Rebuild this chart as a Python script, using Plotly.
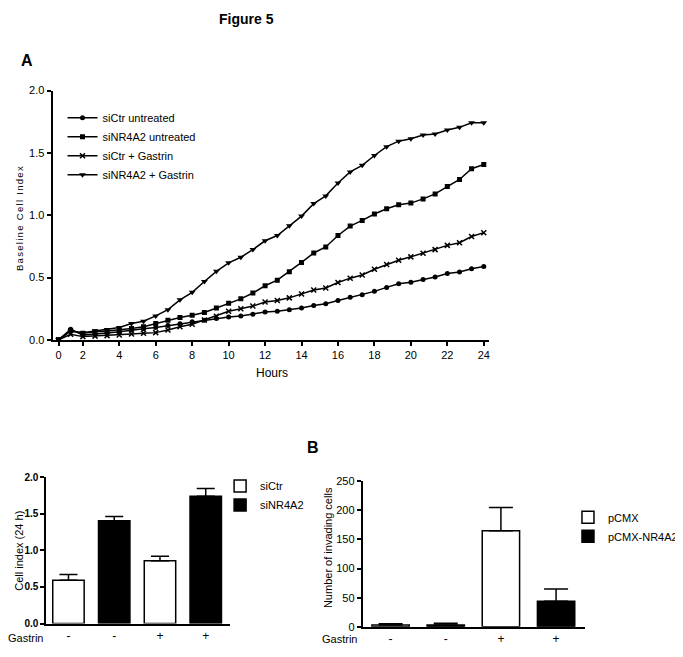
import plotly.graph_objects as go

# ---------------- data ----------------
hours = [0.67, 1.33, 2.0, 2.67, 3.33, 4.0, 4.67, 5.33, 6.0, 6.67, 7.33, 8.0,
         8.67, 9.33, 10.0, 10.67, 11.33, 12.0, 12.67, 13.33, 14.0, 14.67, 15.33, 16.0,
         16.67, 17.33, 18.0, 18.67, 19.33, 20.0, 20.67, 21.33, 22.0, 22.67, 23.33, 24.0]
hour_tickvals = [0.67, 2, 4, 6, 8, 10, 12, 14, 16, 18, 20, 22, 24]
hour_ticktext = ["0", "2", "4", "6", "8", "10", "12", "14", "16", "18", "20", "22", "24"]

siCtr_untreated = [0, 0.085, 0.04, 0.045, 0.055, 0.065, 0.08, 0.09, 0.10, 0.115, 0.13, 0.145,
                   0.158, 0.171, 0.184, 0.192, 0.205, 0.224, 0.229, 0.242, 0.255, 0.276, 0.29, 0.316,
                   0.342, 0.362, 0.389, 0.421, 0.45, 0.463, 0.484, 0.505, 0.532, 0.545, 0.571, 0.589]
siNR4A2_untreated = [0, 0.075, 0.053, 0.066, 0.071, 0.079, 0.092, 0.105, 0.131, 0.158, 0.179, 0.197,
                     0.22, 0.256, 0.294, 0.329, 0.376, 0.434, 0.479, 0.547, 0.621, 0.697, 0.745, 0.837,
                     0.913, 0.958, 1.01, 1.052, 1.084, 1.097, 1.131, 1.171, 1.231, 1.287, 1.373, 1.407]
siCtr_gastrin = [0, 0.045, 0.026, 0.03, 0.034, 0.039, 0.047, 0.053, 0.058, 0.079, 0.105, 0.125,
                 0.16, 0.19, 0.229, 0.25, 0.271, 0.303, 0.316, 0.337, 0.368, 0.40, 0.416, 0.46,
                 0.495, 0.521, 0.566, 0.605, 0.639, 0.666, 0.695, 0.724, 0.758, 0.779, 0.829, 0.86]
siNR4A2_gastrin = [0, 0.07, 0.058, 0.074, 0.084, 0.10, 0.131, 0.15, 0.192, 0.242, 0.321, 0.381,
                   0.468, 0.55, 0.618, 0.663, 0.724, 0.795, 0.837, 0.915, 0.993, 1.093, 1.155, 1.259,
                   1.347, 1.40, 1.479, 1.55, 1.594, 1.613, 1.644, 1.652, 1.684, 1.705, 1.742, 1.742]

bar_positions = [0, 1, 2, 3]
gastrin_labels = ["-", "-", "+", "+"]

# cell index at 24 h
ci_siCtr_pos = [0, 2]
ci_siCtr = [0.59, 0.86]
ci_siCtr_err = [0.08, 0.06]
ci_siNR4A2_pos = [1, 3]
ci_siNR4A2 = [1.405, 1.74]
ci_siNR4A2_err = [0.06, 0.105]

# invading cells
inv_pCMX_pos = [0, 2]
inv_pCMX = [3, 165]
inv_pCMX_err = [2, 40]
inv_NR4A2_pos = [1, 3]
inv_NR4A2 = [3, 44]
inv_NR4A2_err = [3, 21]

# ---------------- figure ----------------
OFF = 8                      # page body margin
W, H = 683 - OFF, 657 - OFF
FONT = "Liberation Sans, Arial, sans-serif"


def px(x):
    return (x - OFF) / W


def py(y):
    return 1 - (y - OFF) / H


fig = go.Figure()

line_specs = [
    ("siCtr untreated", siCtr_untreated, dict(symbol="circle", size=5)),
    ("siNR4A2 untreated", siNR4A2_untreated, dict(symbol="square", size=5)),
    ("siCtr + Gastrin", siCtr_gastrin, dict(symbol="x-thin", size=5, line=dict(width=1.5, color="black"))),
    ("siNR4A2 + Gastrin", siNR4A2_gastrin, dict(symbol="triangle-down", size=6)),
]
for name, vals, mk in line_specs:
    fig.add_trace(go.Scatter(
        x=hours, y=vals, name=name, mode="lines+markers",
        line=dict(color="black", width=1.5),
        marker=dict(color="black", **mk),
        xaxis="x", yaxis="y", legend="legend"))

bar_w1 = 0.687
fig.add_trace(go.Bar(
    x=ci_siCtr_pos, y=ci_siCtr, name="siCtr", width=bar_w1,
    marker=dict(color="white", line=dict(color="black", width=1.5)),
    error_y=dict(type="data", array=ci_siCtr_err, arrayminus=[0, 0], symmetric=False,
                 color="black", thickness=1.5, width=9),
    xaxis="x2", yaxis="y2", legend="legend2"))
fig.add_trace(go.Bar(
    x=ci_siNR4A2_pos, y=ci_siNR4A2, name="siNR4A2", width=bar_w1,
    marker=dict(color="black", line=dict(color="black", width=1.5)),
    error_y=dict(type="data", array=ci_siNR4A2_err, arrayminus=[0, 0], symmetric=False,
                 color="black", thickness=1.5, width=9),
    xaxis="x2", yaxis="y2", legend="legend2"))

bar_w2 = 0.677
fig.add_trace(go.Bar(
    x=inv_pCMX_pos, y=inv_pCMX, name="pCMX", width=bar_w2,
    marker=dict(color="white", line=dict(color="black", width=1.5)),
    error_y=dict(type="data", array=inv_pCMX_err, arrayminus=[0, 0], symmetric=False,
                 color="black", thickness=1.5, width=12),
    xaxis="x3", yaxis="y3", legend="legend3"))
fig.add_trace(go.Bar(
    x=inv_NR4A2_pos, y=inv_NR4A2, name="pCMX-NR4A2", width=bar_w2,
    marker=dict(color="black", line=dict(color="black", width=1.5)),
    error_y=dict(type="data", array=inv_NR4A2_err, arrayminus=[0, 0], symmetric=False,
                 color="black", thickness=1.5, width=12),
    xaxis="x3", yaxis="y3", legend="legend3"))

axis_common = dict(showgrid=False, zeroline=False, showline=True, linecolor="black",
                   linewidth=2, tickcolor="black", tickwidth=1.5, ticklen=4)
tf = dict(family=FONT, size=11, color="black")

fig.update_layout(
    width=W, height=H, margin=dict(l=0, r=0, t=0, b=0),
    paper_bgcolor="white", plot_bgcolor="white",
    barmode="overlay",
    font=dict(family=FONT, color="black"),
    xaxis=dict(domain=[px(53), px(493)], range=[0.341, 24.27], anchor="y",
               tickvals=hour_tickvals, ticktext=hour_ticktext, ticks="outside",
               tickfont=tf, **axis_common),
    yaxis=dict(domain=[py(340), py(86)], range=[0, 2.0], anchor="x",
               tickvals=[0, 0.5, 1.0, 1.5, 2.0], ticktext=["0.0", "0.5", "1.0", "1.5", "2.0"],
               ticks="outside", tickfont=tf, **axis_common),
    xaxis2=dict(domain=[px(46.7), px(231.7)], range=[-0.483, 3.524], anchor="y2",
                tickvals=bar_positions, ticktext=gastrin_labels, ticks="",
                tickfont=dict(family=FONT, size=12, color="black"), **axis_common),
    yaxis2=dict(domain=[py(629), py(480)], range=[0, 2.0], anchor="x2",
                tickvals=[0, 0.5, 1.0, 1.5, 2.0], ticktext=["0.0", "0.5", "1.0", "1.5", "2.0"],
                ticks="outside", tickfont=dict(family=FONT, size=10, color="black", weight="bold"),
                **axis_common),
    xaxis3=dict(domain=[px(366), px(590)], range=[-0.503, 3.521], anchor="y3",
                tickvals=bar_positions, ticktext=gastrin_labels, ticks="",
                tickfont=dict(family=FONT, size=12, color="black"), **axis_common),
    yaxis3=dict(domain=[py(632.3), py(484)], range=[0, 250], anchor="x3",
                tickvals=[0, 50, 100, 150, 200, 250], ticks="outside", tickfont=tf, **axis_common),
    legend=dict(x=px(63), y=py(99), xanchor="left", yanchor="top",
                bgcolor="rgba(0,0,0,0)", font=dict(family=FONT, size=11, color="black"),
                tracegroupgap=0),
    legend2=dict(x=px(222), y=py(474), xanchor="left", yanchor="top",
                 bgcolor="rgba(0,0,0,0)", font=dict(family=FONT, size=11, color="black")),
    legend3=dict(x=px(573), y=py(506), xanchor="left", yanchor="top",
                 bgcolor="rgba(0,0,0,0)", font=dict(family=FONT, size=11, color="black")),
    showlegend=True,
)

annotations = [
    dict(text="<b>Figure 5</b>", x=px(249), y=py(13), font=dict(size=14)),
    dict(text="<b>A</b>", x=px(27), y=py(55), font=dict(size=16)),
    dict(text="<b>B</b>", x=px(316), y=py(450), font=dict(size=16)),
    dict(text="Hours", x=px(274), y=py(374), font=dict(size=12)),
    dict(text='<span style="letter-spacing:1.3px">Baseline Cell Index</span>',
         x=px(19), y=py(216), textangle=-90, font=dict(size=9.5)),
    dict(text="Cell index (24 h)", x=px(19), y=py(555), textangle=-90, font=dict(size=11)),
    dict(text="Number of invading cells", x=px(331), y=py(552), textangle=-90, font=dict(size=11)),
    dict(text="Gastrin", x=px(26), y=py(644), font=dict(size=11)),
    dict(text="Gastrin", x=px(342), y=py(645), font=dict(size=11)),
]
for a in annotations:
    a.update(xref="paper", yref="paper", showarrow=False, xanchor="center", yanchor="middle")
    a["font"] = dict(family=FONT, size=a["font"]["size"], color="black")
    fig.add_annotation(**a)

fig.write_html("out.html")
